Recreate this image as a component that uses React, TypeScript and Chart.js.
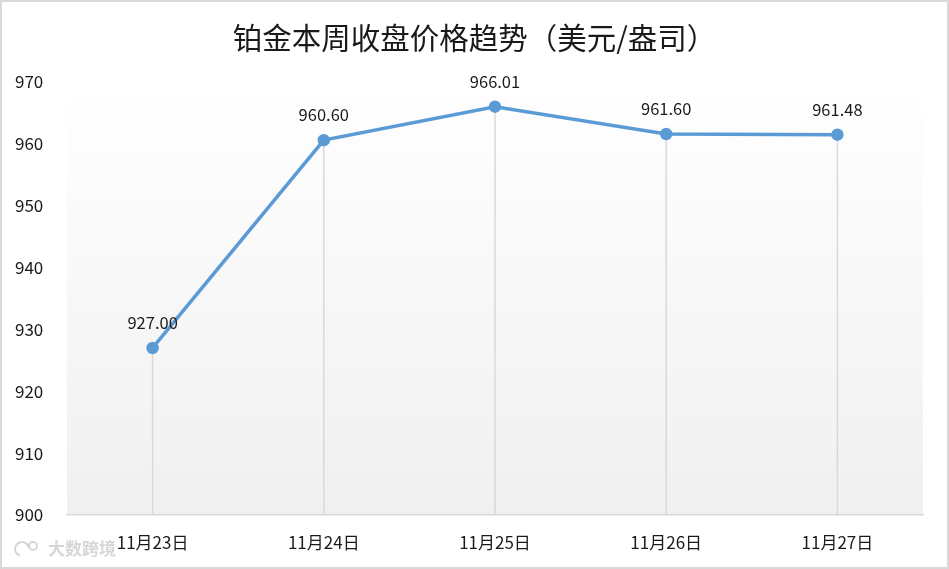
import React, { useEffect, useRef } from "react";
import { Chart, registerables } from "chart.js";

Chart.register(...registerables);

const title = "铂金本周收盘价格趋势（美元/盎司）";
const categories = ["11月23日", "11月24日", "11月25日", "11月26日", "11月27日"];
const prices = [927.0, 960.6, 966.01, 961.6, 961.48];
const yMin = 900;
const yMax = 970;
const yStep = 10;

const FONT = "'Noto Sans CJK SC', 'Noto Sans', sans-serif";

export default function App() {
  const ref = useRef<HTMLCanvasElement | null>(null);

  useEffect(() => {
    document.body.style.margin = "0";
    const canvas = ref.current;
    if (!canvas) return;

    const decor = {
      id: "decor",
      beforeDraw(chart: any) {
        const { ctx, chartArea: a, width, height } = chart;
        ctx.save();
        ctx.fillStyle = "#ffffff";
        ctx.fillRect(0, 0, width, height);
        const g = ctx.createLinearGradient(0, a.top, 0, a.bottom);
        g.addColorStop(0, "#ffffff");
        g.addColorStop(1, "#f0f0f0");
        ctx.fillStyle = g;
        ctx.fillRect(a.left, a.top, a.right - a.left, a.bottom - a.top);
        ctx.restore();
      },
      beforeDatasetsDraw(chart: any) {
        const { ctx, scales } = chart;
        const meta = chart.getDatasetMeta(0);
        ctx.save();
        ctx.strokeStyle = "#d9d9d9";
        ctx.lineWidth = 1.5;
        meta.data.forEach((pt: any) => {
          ctx.beginPath();
          ctx.moveTo(pt.x, pt.y);
          ctx.lineTo(pt.x, scales.y.getPixelForValue(yMin));
          ctx.stroke();
        });
        ctx.restore();
      },
      afterDraw(chart: any) {
        const { ctx, width, height } = chart;
        const meta = chart.getDatasetMeta(0);
        ctx.save();
        // data labels
        ctx.fillStyle = "#1a1a1a";
        ctx.font = `16.5px ${FONT}`;
        ctx.textAlign = "center";
        ctx.textBaseline = "middle";
        meta.data.forEach((pt: any, i: number) => {
          ctx.fillText(prices[i].toFixed(2), pt.x, pt.y - 25);
        });
        // title
        ctx.fillStyle = "#1a1a1a";
        ctx.font = `29.5px ${FONT}`;
        ctx.fillText(title, width / 2, 38);
        // watermark
        ctx.fillStyle = "rgba(180,180,180,0.55)";
        ctx.font = `bold 17px ${FONT}`;
        ctx.textAlign = "left";
        ctx.fillText("大数跨境", 48, 549);
        ctx.beginPath();
        ctx.lineWidth = 2;
        ctx.strokeStyle = "rgba(180,180,180,0.55)";
        ctx.arc(22, 549, 7, Math.PI * 0.6, Math.PI * 1.9);
        ctx.stroke();
        ctx.beginPath();
        ctx.arc(33, 546, 4, 0, Math.PI * 2);
        ctx.stroke();
        // border
        ctx.strokeStyle = "#d9d9d9";
        ctx.lineWidth = 2;
        ctx.strokeRect(1, 1, width - 2, height - 2);
        ctx.restore();
      },
    };

    const chart = new Chart(canvas, {
      type: "line",
      data: {
        labels: categories,
        datasets: [
          {
            data: prices,
            borderColor: "#5b9bd5",
            backgroundColor: "#5b9bd5",
            borderWidth: 3.5,
            pointRadius: 4.5,
            pointBackgroundColor: "#5b9bd5",
            pointBorderColor: "#5b9bd5",
            tension: 0,
            fill: false,
          },
        ],
      },
      options: {
        responsive: false,
        animation: false,
        devicePixelRatio: 1,
        layout: { padding: { left: 15, right: 26, top: 82, bottom: 14 } },
        plugins: {
          legend: { display: false },
          title: { display: false },
          tooltip: { enabled: false },
        },
        scales: {
          x: {
            offset: true,
            grid: { display: false, drawTicks: false },
            border: { display: true, color: "#d9d9d9", width: 1.5 },
            ticks: {
              color: "#1a1a1a",
              font: { size: 17, family: FONT },
              padding: 17,
              maxRotation: 0,
            },
            afterFit(scale: any) {
              scale.height = 40;
            },
          },
          y: {
            min: yMin,
            max: yMax,
            grid: { display: false, drawTicks: false },
            border: { display: false },
            ticks: {
              stepSize: yStep,
              color: "#1a1a1a",
              font: { size: 17, family: FONT },
              crossAlign: "far",
              padding: 0,
            },
            afterFit(scale: any) {
              scale.width = 52;
            },
          },
        },
      },
      plugins: [decor],
    });

    return () => chart.destroy();
  }, []);

  return (
    <div style={{ position: "absolute", left: 0, top: 0, width: 949, height: 569 }}>
      <canvas ref={ref} width={949} height={569} style={{ width: 949, height: 569 }} />
    </div>
  );
}
